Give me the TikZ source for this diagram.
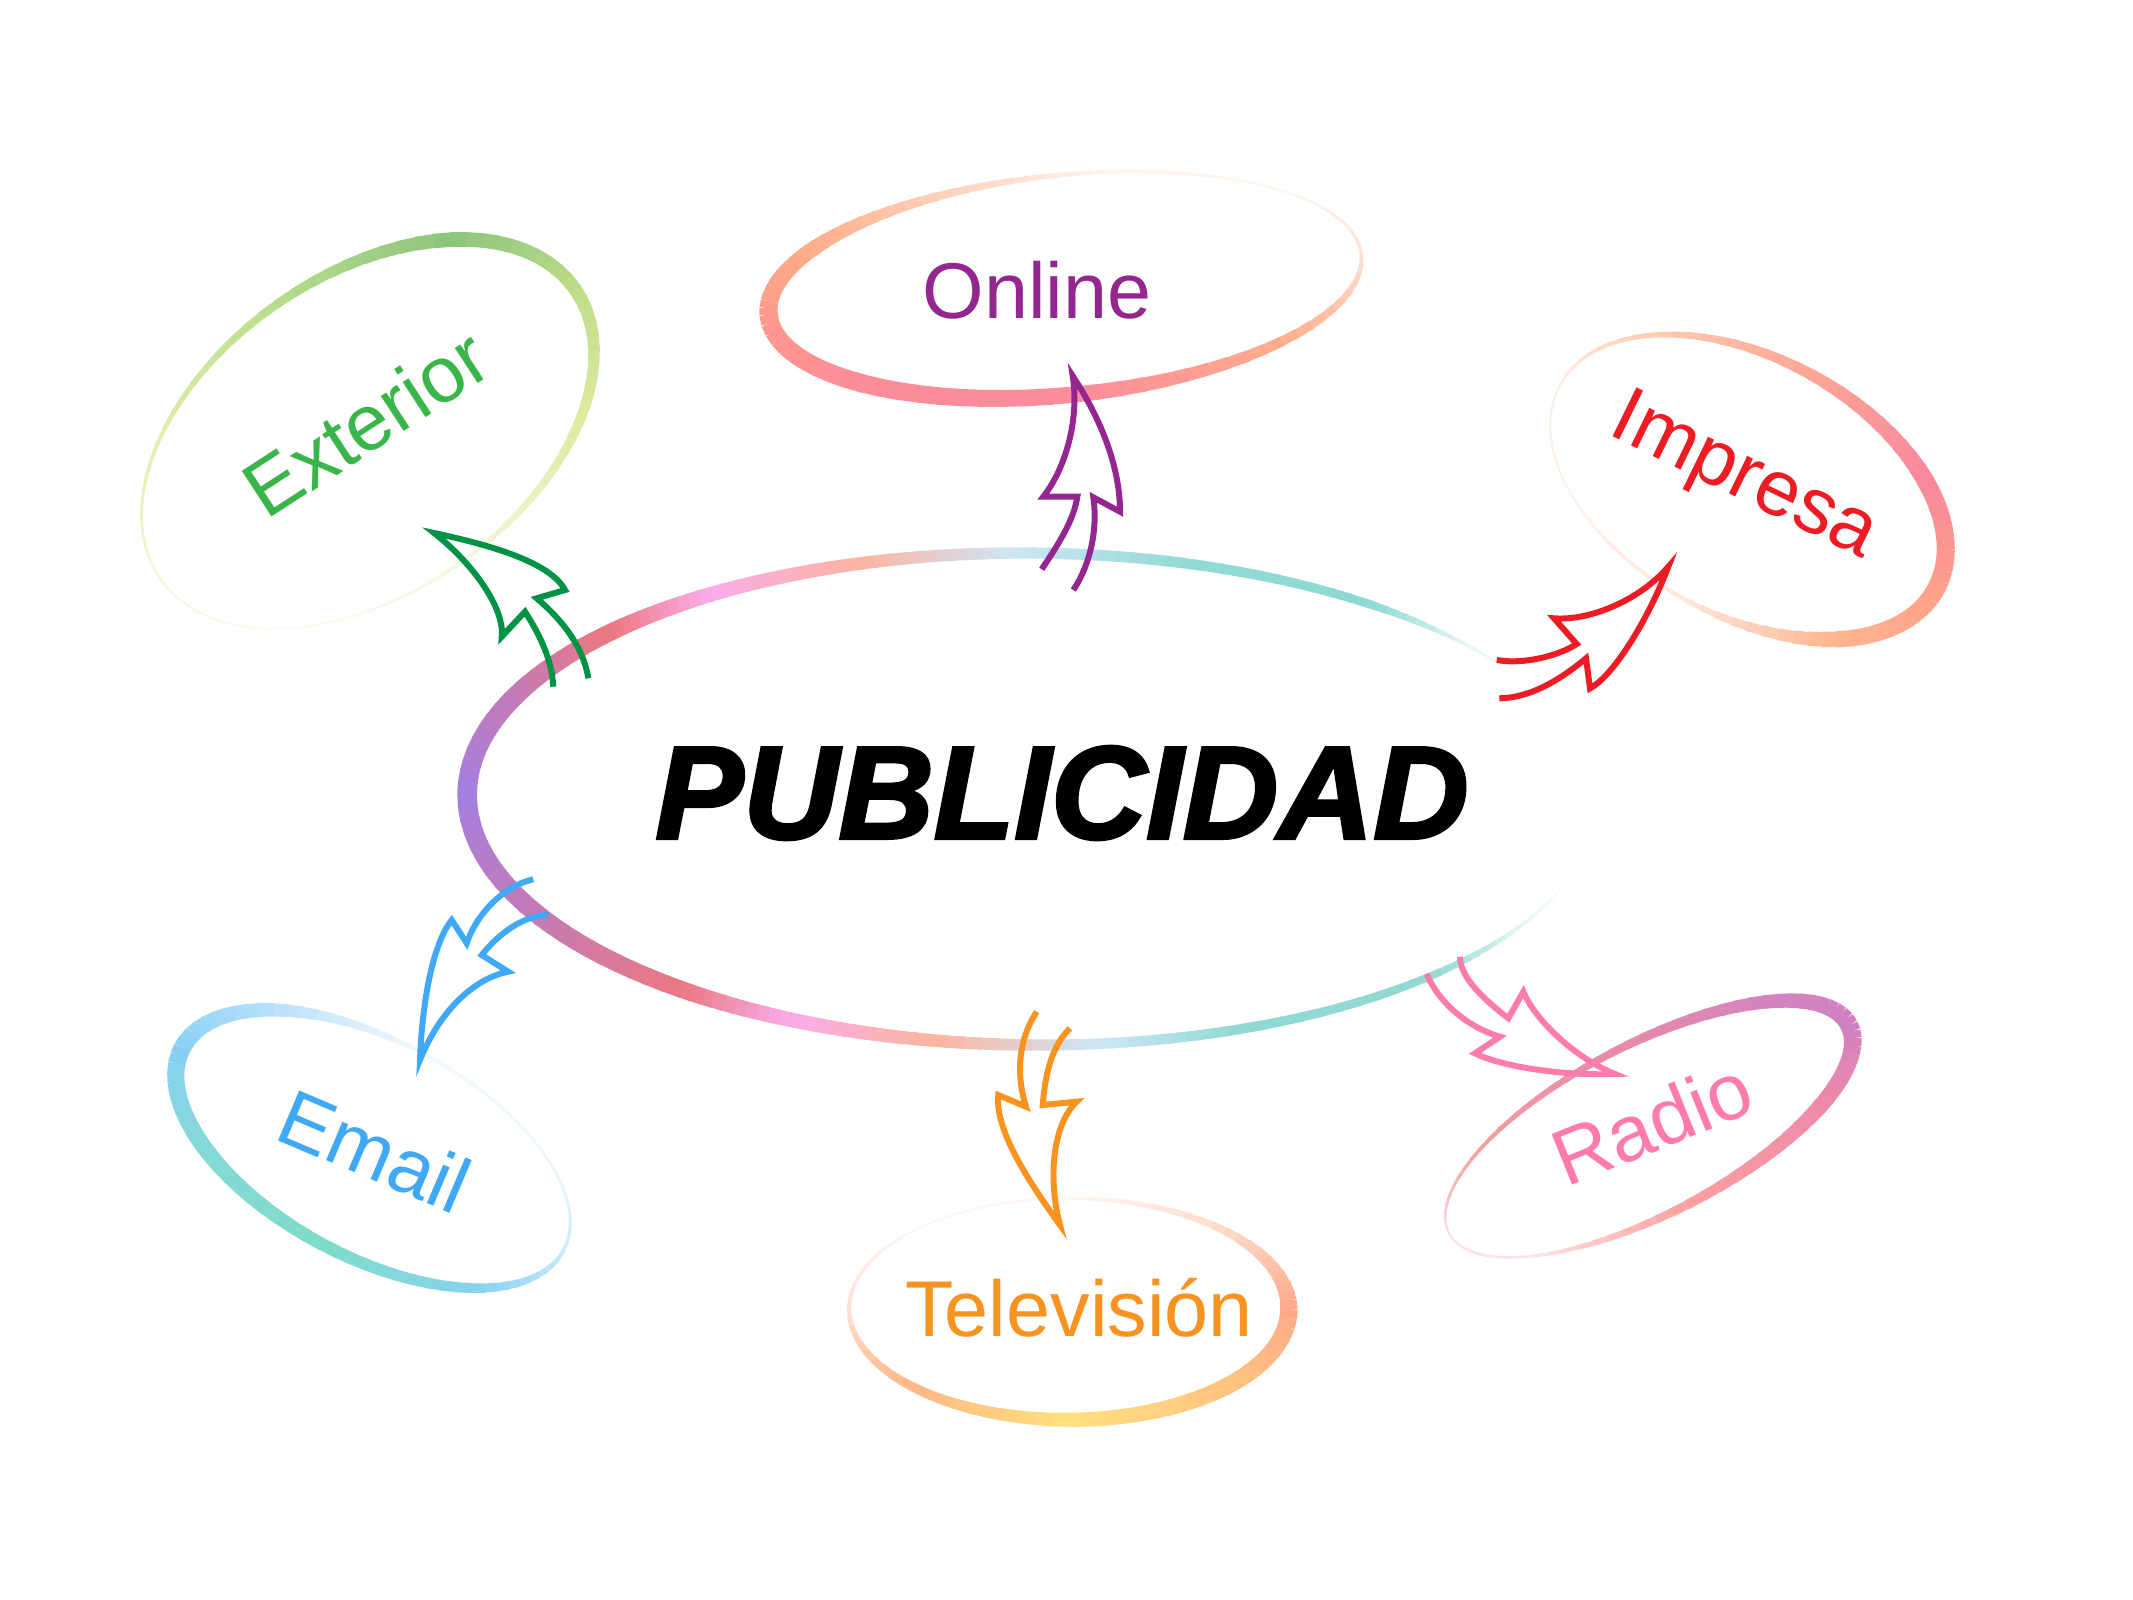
\documentclass[tikz,border=0pt]{standalone}
\usepackage{fontspec}
\setmainfont{Liberation Sans}
\newfontfamily\pubfont{Liberation Sans}[BoldItalicFeatures={FakeBold=2.5}]
% central ring
\definecolor{mA}{HTML}{E3F6F4}\definecolor{mB}{HTML}{94DAD4}\definecolor{mC}{HTML}{8FD8D2}
\definecolor{mD}{HTML}{CCE7F8}\definecolor{mE}{HTML}{FDB49E}\definecolor{mF}{HTML}{F9ADEA}
\definecolor{mG}{HTML}{EA7882}\definecolor{mH}{HTML}{C67AB6}\definecolor{mI}{HTML}{A47FE0}
\definecolor{mK}{HTML}{EC7880}\definecolor{mM}{HTML}{FDB4A0}\definecolor{mN}{HTML}{CDE6F6}
\definecolor{mO}{HTML}{93DAD5}\definecolor{mP}{HTML}{8CD8D2}\definecolor{mQ}{HTML}{E0F5F3}
% online
\definecolor{oA}{HTML}{FDE3D8}\definecolor{oB}{HTML}{FFAE8C}\definecolor{oC}{HTML}{FC8C9A}
\definecolor{oD}{HTML}{FB8C98}\definecolor{oE}{HTML}{FE9A8E}\definecolor{oF}{HTML}{FFAD88}
\definecolor{oG}{HTML}{FED3BD}\definecolor{oH}{HTML}{FFF3EE}\definecolor{oI}{HTML}{FFF6F2}
% exterior
\definecolor{eA}{HTML}{BEDC88}\definecolor{eB}{HTML}{DEEAA0}\definecolor{eC}{HTML}{F4F8E2}
\definecolor{eD}{HTML}{FBFCF4}\definecolor{eE}{HTML}{F3F7DA}\definecolor{eF}{HTML}{E4EFB0}
\definecolor{eG}{HTML}{B8DC8C}\definecolor{eH}{HTML}{8CC47C}
% impresa
\definecolor{iA}{HTML}{FFA088}\definecolor{iB}{HTML}{FFB48E}\definecolor{iC}{HTML}{FDE6DA}
\definecolor{iD}{HTML}{FFF3EE}\definecolor{iE}{HTML}{FFEDE4}\definecolor{iF}{HTML}{FFCBB0}
\definecolor{iG}{HTML}{FDA696}\definecolor{iH}{HTML}{F8889C}
% email
\definecolor{aA}{HTML}{CDEBFF}\definecolor{aB}{HTML}{86D2EE}\definecolor{aC}{HTML}{80DCC8}
\definecolor{aD}{HTML}{84D8D8}\definecolor{aE}{HTML}{88D0F4}\definecolor{aF}{HTML}{B8E0FC}
\definecolor{aG}{HTML}{F2F9FF}\definecolor{aH}{HTML}{EEF6FF}
% television
\definecolor{tA}{HTML}{FFA888}\definecolor{tB}{HTML}{FFC480}\definecolor{tC}{HTML}{FFE080}
\definecolor{tD}{HTML}{FFB684}\definecolor{tE}{HTML}{FFE2D6}\definecolor{tF}{HTML}{FFF5F2}
\definecolor{tG}{HTML}{FFF7F4}\definecolor{tH}{HTML}{FFD9C9}
% radio
\definecolor{rA}{HTML}{D080C4}\definecolor{rB}{HTML}{EE8AA8}\definecolor{rC}{HTML}{FBA0A0}
\definecolor{rD}{HTML}{FDE4E6}\definecolor{rE}{HTML}{FCE0E2}\definecolor{rF}{HTML}{F4A0A0}
\definecolor{rG}{HTML}{E98AA8}\definecolor{rH}{HTML}{D485BE}
% arrows and texts
\definecolor{wOn}{HTML}{93278F}\definecolor{wEx}{HTML}{009245}\definecolor{wIm}{HTML}{ED1C24}
\definecolor{wEm}{HTML}{3FA9F5}\definecolor{wTv}{HTML}{F7931E}\definecolor{wRa}{HTML}{FF7BAC}
\definecolor{xOn}{HTML}{93278F}\definecolor{xEx}{HTML}{39B54A}\definecolor{xIm}{HTML}{ED1C24}
\definecolor{xEm}{HTML}{3FA9F5}\definecolor{xTv}{HTML}{F7931E}\definecolor{xRa}{HTML}{FF7BAC}

\newcommand\ringpart[6]{%
  \foreach \k in {1,...,10}{%
    \pgfmathsetmacro\myta{#1+(#4-#1)*(\k-1)/10}%
    \pgfmathsetmacro\mytb{#1+(#4-#1)*\k/10+0.3}%
    \pgfmathtruncatemacro\mypc{100-(\k-0.5)*10}%
    \pgfmathsetmacro\mylw{#3+(#6-#3)*(\k-0.5)/10}%
    \colorlet{segcol}{#2!\mypc!#5}%
    \draw[line width=\mylw pt, draw=segcol]
      ({\myra*cos(\myta)},{\myrb*sin(\myta)}) -- ({\myra*cos(\mytb)},{\myrb*sin(\mytb)});
  }%
}
\newcommand\gring[1]{%
  \foreach \gt/\gc/\gw [count=\i, remember=\gt as \lt (initially 0),
      remember=\gc as \lc (initially white), remember=\gw as \lww (initially 1)] in {#1}{%
    \ifnum\i>1 \ringpart{\lt}{\lc}{\lww}{\gt}{\gc}{\gw}\fi
  }%
}

\begin{document}
\begin{tikzpicture}[x=0.01cm,y=-0.01cm,
  lbl/.style={font=\fontsize{22.5}{27}\selectfont, text height=16pt, text depth=0pt, inner sep=0pt},
  arw/.style={line width=1.7pt, line join=miter, miter limit=8}]
\fill[white] (0,0) rectangle (2133,1600);
\useasboundingbox (0,0) rectangle (2133,1600);

% Exterior ring
\begin{scope}[shift={(367.8,434.1)},rotate=35]
\def\myra{253}\def\myrb{158.6}
\gring{0/eA/3.8, 45/eB/2.8, 90/eC/1.0, 135/eD/0.5, 180/eE/0.6, 225/eF/1.0, 270/eG/2.4, 315/eH/4.2, 360/eA/3.8}
\end{scope}
% Online ring
\begin{scope}[shift={(1065,285)},rotate=5.8]
\def\myra{298}\def\myrb{110}
\gring{0/oA/1.0, 45/oB/2.8, 90/oC/4.6, 135/oD/5.2, 180/oE/5.2, 215/oF/4.2, 250/oG/2.2, 280/oH/1.0, 320/oI/0.7, 360/oA/1.0}
\end{scope}
% Impresa ring
\begin{scope}[shift={(1748,487)},rotate=-28.5]
\def\myra{214}\def\myrb{129}
\gring{0/iA/5.2, 45/iB/4.6, 90/iC/1.2, 135/iD/0.6, 180/iE/0.6, 225/iF/1.5, 270/iG/3.2, 315/iH/5.0, 360/iA/5.2}
\end{scope}
% Email ring
\begin{scope}[shift={(373,1149)},rotate=-28]
\def\myra{216}\def\myrb{108}
\gring{0/aA/1.0, 45/aB/2.8, 90/aC/3.6, 135/aD/4.6, 180/aE/5.0, 225/aF/3.8, 270/aG/1.0, 315/aH/0.6, 360/aA/1.0}
\end{scope}
% Television ring
\begin{scope}[shift={(1069,1309)}]
\def\myra{220}\def\myrb{110.8}
\gring{0/tA/5.0, 45/tB/4.8, 90/tC/4.0, 135/tD/2.6, 180/tE/1.2, 225/tF/0.6, 270/tG/0.8, 315/tH/2.2, 360/tA/5.0}
\end{scope}
% Radio ring
\begin{scope}[shift={(1649,1129)},rotate=27.5]
\def\myra{225.6}\def\myrb{84.8}
\gring{0/rA/5.2, 45/rB/4.4, 90/rC/2.6, 135/rD/0.8, 180/rE/0.6, 225/rF/1.0, 270/rG/2.2, 315/rH/3.8, 360/rA/5.2}
\end{scope}
% Central ring
\begin{scope}[shift={(1032,799)},rotate=-0.5]
\def\myra{565}\def\myrb{246}
\gring{18/white/0.3, 30/mA/1.0, 45/mB/2.2, 68/mC/2.8, 83/mD/3.0, 100/mE/3.6, 115/mF/4.2, 128/mG/4.8, 150/mH/5.3, 180/mI/5.6, 205/mH/5.3, 222/mK/4.8, 235/mF/4.2, 252/mM/3.6, 268/mN/3.2, 285/mO/3.0, 306/mP/2.4, 319/mQ/1.0, 329/white/0.3}
\end{scope}

% Arrows
\draw[arw, draw=wOn] (1041.7,569.3) .. controls (1058,545) and (1074,520) .. (1077.3,496.7) -- (1043.3,496.7)
  .. controls (1068,465) and (1079,415) .. (1072.7,376) .. controls (1095,410) and (1120,460) .. (1120,511.7)
  -- (1093.3,497.3) .. controls (1098,530) and (1090,565) .. (1073.3,590);
\draw[arw, draw=wEx] (553.3,686.7) .. controls (552,660) and (540,635) .. (525,611.7) -- (501.7,636.7)
  .. controls (505,610) and (475,565) .. (434,533) .. controls (490,545) and (550,562) .. (565,590)
  -- (536.7,598.3) .. controls (560,618) and (583,645) .. (588.3,678.3);
\draw[arw, draw=wIm] (1496.7,660) .. controls (1525,665) and (1560,655) .. (1576.7,644) -- (1554,618.3)
  .. controls (1590,621) and (1640,600) .. (1668.3,566.7) .. controls (1650,615) and (1615,675) .. (1590,688.3)
  -- (1586,658.3) .. controls (1560,680) and (1530,698) .. (1499.3,698.3);
\draw[arw, draw=wEm] (533.3,879.3) .. controls (500,887) and (475,918) .. (466.7,943.3) -- (451.7,920)
  .. controls (432,945) and (422,1005) .. (420,1060) .. controls (440,1010) and (475,978) .. (508.3,971.7)
  -- (481.7,955) .. controls (500,932) and (525,915) .. (548.3,915);
\draw[arw, draw=wTv] (1036.7,1011.7) .. controls (1015,1045) and (1018,1082) .. (1026,1106.7) -- (998.3,1095)
  .. controls (995,1125) and (1020,1170) .. (1060,1225) .. controls (1048,1180) and (1052,1125) .. (1076.7,1101.7)
  -- (1042.7,1105) .. controls (1046,1065) and (1055,1043) .. (1070,1028.3);
\draw[arw, draw=wRa] (1426.7,974) .. controls (1440,1005) and (1470,1028) .. (1500,1036.7) -- (1475,1053.3)
  .. controls (1500,1066) and (1560,1076) .. (1615,1074) .. controls (1575,1058) and (1535,1020) .. (1523.3,991.7)
  -- (1508.3,1018.3) .. controls (1478,995) and (1460,975) .. (1460,956.7);

% Texts
\node[font=\fontsize{37.5}{45}\selectfont\pubfont\bfseries\itshape, inner sep=0pt] (pub) at (1062,793) {PUBLICIDAD};
\node[lbl, text=xOn] (onl) at (1037,290) {Online};
\node[lbl, text=xEx, rotate=33] (ext) at (365.8,423) {Exterior};
\node[lbl, text=xIm, rotate=-26] (imp) at (1747,471) {Impresa};
\node[lbl, text=xEm, rotate=-23] (eml) at (375,1151) {Email};
\node[lbl, text=xTv] (tel) at (1079,1308) {Televisión};
\node[lbl, text=xRa, rotate=22] (rad) at (1652,1123) {Radio};
\end{tikzpicture}
\end{document}
